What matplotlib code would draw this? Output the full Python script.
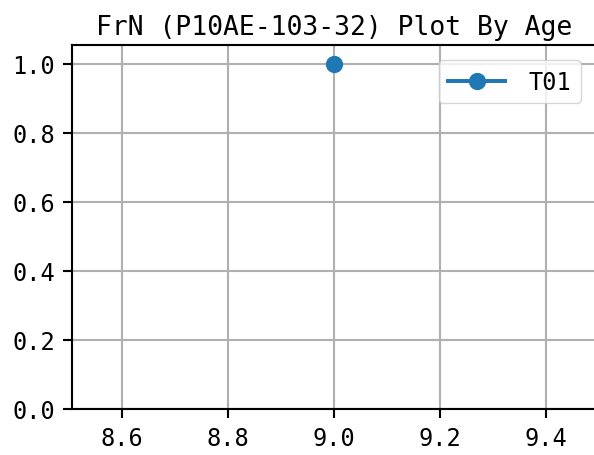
import matplotlib
matplotlib.use("Agg")
import matplotlib.pyplot as plt

# data
ages = [9.0]
frn_values = [1.0]
series_label = "T01"
title = "FrN (P10AE-103-32) Plot By Age"

plt.rcParams['font.family'] = ['DejaVu Sans Mono']

s = 1.9  # scale from the original render

fig = plt.figure(figsize=(5.94, 4.56), dpi=100)
ax = fig.add_axes([72 / 594, 46 / 456, 524 / 594, 364 / 456])

ax.plot(ages, frn_values, marker='o', color='#1f77b4',
        linewidth=1.5 * s, markersize=6 * s, label=series_label)
ax.set_ylim(bottom=0)
ax.grid(True, color='#b0b0b0', linewidth=0.8 * s)
ax.set_axisbelow(True)

ax.set_title(title, fontsize=19, pad=4 * s)
ax.tick_params(labelsize=17, length=3.5 * s, width=0.8 * s, pad=3.0 * s)
for sp in ax.spines.values():
    sp.set_linewidth(0.8 * s)

ax.legend(fontsize=17, loc='upper right', borderpad=0.4, borderaxespad=0.65,
          handlelength=2.4, handletextpad=1.0, framealpha=0.8,
          edgecolor='#cccccc')

fig.savefig("out.png", dpi=100)
